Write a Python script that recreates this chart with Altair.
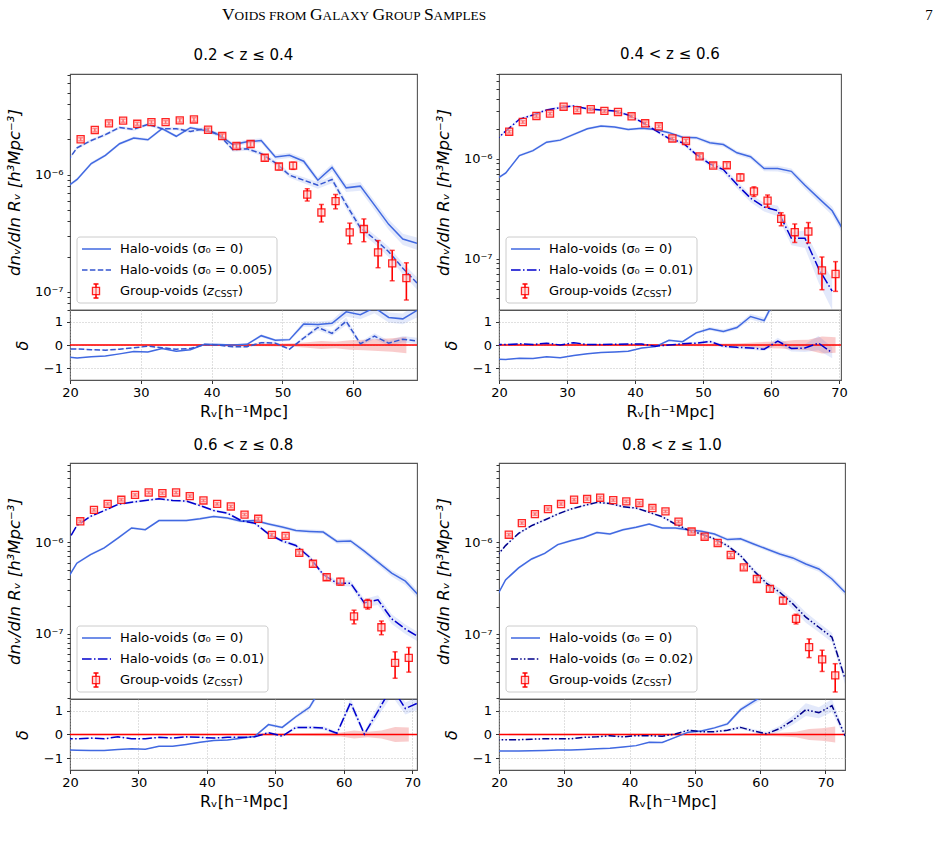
import altair as alt
import pandas as pd

FONT = "DejaVu Sans"
SERIF = "Liberation Serif"
RED = "#ff0000"
BLUE = "#4169e1"

# ---------------- panel 1 : 0.2 < z <= 0.4 ----------------
p1_gx = [21.5, 23.5, 25.5, 27.5, 29.5, 31.5, 33.5, 35.5, 37.5, 39.5, 41.5, 43.5,
         45.5, 47.5, 49.5, 51.5, 53.5, 55.5, 57.5, 59.5, 61.5, 63.5, 65.5, 67.5]
p1_grp = [2.00e-6, 2.40e-6, 2.73e-6, 2.88e-6, 2.71e-6, 2.80e-6, 2.80e-6, 2.90e-6,
          2.95e-6, 2.41e-6, 2.13e-6, 1.75e-6, 1.82e-6, 1.39e-6, 1.17e-6, 1.19e-6,
          6.76e-7, 4.75e-7, 5.93e-7, 3.21e-7, 3.43e-7, 2.17e-7, 1.75e-7, 1.31e-7]
p1_err = [0.03, 0.03, 0.03, 0.03, 0.03, 0.03, 0.03, 0.035, 0.035, 0.035, 0.04, 0.045,
          0.05, 0.055, 0.06, 0.07, 0.12, 0.17, 0.14, 0.20, 0.22, 0.26, 0.29, 0.35]
p1_hx = [19, 21, 23, 25, 27, 29, 31, 33, 35, 37, 39, 41, 43, 45, 47, 49, 51, 53, 55,
         57, 59, 61, 63, 65, 67, 69]
p1_h0 = [7.4e-7, 9.08e-7, 1.24e-6, 1.46e-6, 1.83e-6, 2.05e-6, 1.98e-6, 2.46e-6, 2.12e-6,
         2.51e-6, 2.38e-6, 2.19e-6, 1.80e-6, 1.90e-6, 1.95e-6, 1.41e-6, 1.46e-6, 1.30e-6,
         8.95e-7, 1.15e-6, 7.7e-7, 7.96e-7, 5.49e-7, 3.76e-7, 2.82e-7, 2.59e-7]
p1_h1 = [1.15e-6, 1.69e-6, 1.95e-6, 2.19e-6, 2.52e-6, 2.43e-6, 2.68e-6, 2.46e-6, 2.46e-6,
         2.33e-6, 2.46e-6, 2.19e-6, 1.63e-6, 1.66e-6, 1.51e-6, 1.26e-6, 9.87e-7, 8.95e-7,
         8.11e-7, 9.08e-7, 5.56e-7, 3.52e-7, 2.82e-7, 2.20e-7, 1.59e-7, 1.19e-7]
p1_b0 = [0.03, 0.03, 0.03, 0.03, 0.03, 0.03, 0.03, 0.03, 0.03, 0.03, 0.035, 0.035, 0.04,
         0.04, 0.045, 0.05, 0.05, 0.06, 0.065, 0.07, 0.08, 0.085, 0.09, 0.10, 0.11, 0.12]
p1_b1 = [0.03, 0.03, 0.03, 0.03, 0.03, 0.03, 0.03, 0.03, 0.03, 0.03, 0.035, 0.035, 0.04,
         0.04, 0.045, 0.05, 0.05, 0.06, 0.065, 0.07, 0.08, 0.085, 0.09, 0.10, 0.11, 0.12]
p1_r0 = [-0.50, -0.56, -0.50, -0.47, -0.38, -0.28, -0.30, -0.15, -0.27, -0.20, 0.03, 0.02,
         0.00, 0.03, 0.40, 0.20, 0.23, 0.90, 0.88, 0.93, 1.42, 1.30, 1.60, 1.18, 1.12, 1.48]
p1_r1 = [-0.17, -0.17, -0.20, -0.22, -0.18, -0.12, -0.05, -0.12, -0.18, -0.15, 0.02, 0.00,
         -0.08, -0.07, 0.10, 0.08, -0.18, 0.30, 0.75, 0.50, 1.02, 0.05, 0.38, 0.08, 0.25, 0.17]

# ---------------- panel 2 : 0.4 < z <= 0.6 ----------------
p2_gx = [21.5, 23.5, 25.5, 27.5, 29.5, 31.5, 33.5, 35.5, 37.5, 39.5, 41.5, 43.5,
         45.5, 47.5, 49.5, 51.5, 53.5, 55.5, 57.5, 59.5, 61.5, 63.5, 65.5, 67.5, 69.5]
p2_grp = [1.87e-6, 2.34e-6, 2.69e-6, 2.84e-6, 3.33e-6, 3.07e-6, 3.14e-6, 3.02e-6, 2.95e-6,
          2.67e-6, 2.27e-6, 2.12e-6, 1.60e-6, 1.51e-6, 1.06e-6, 8.57e-7, 8.63e-7, 6.53e-7,
          4.72e-7, 3.81e-7, 2.51e-7, 1.84e-7, 1.87e-7, 7.64e-8, 7.02e-8]
p2_err = [0.03, 0.03, 0.03, 0.03, 0.03, 0.03, 0.03, 0.03, 0.03, 0.03, 0.03, 0.03, 0.03,
          0.04, 0.05, 0.05, 0.06, 0.08, 0.11, 0.14, 0.15, 0.21, 0.23, 0.36, 0.33]
p2_hx = [19, 21, 23, 25, 27, 29, 31, 33, 35, 37, 39, 41, 43, 45, 47, 49, 51, 53, 55,
         57, 59, 61, 63, 65, 67, 69, 71]
p2_h0 = [5.9e-7, 7.22e-7, 1.08e-6, 1.21e-6, 1.47e-6, 1.54e-6, 1.76e-6, 2.00e-6, 2.13e-6,
         2.08e-6, 1.97e-6, 2.02e-6, 1.97e-6, 1.83e-6, 1.65e-6, 1.63e-6, 1.45e-6, 1.39e-6,
         1.15e-6, 1.05e-6, 8.0e-7, 8.0e-7, 7.5e-7, 5.43e-7, 4.04e-7, 3.02e-7, 1.75e-7]
p2_h1 = [1.43e-6, 1.90e-6, 2.49e-6, 2.75e-6, 3.09e-6, 3.26e-6, 3.39e-6, 3.18e-6, 3.09e-6,
         3.02e-6, 2.75e-6, 2.34e-6, 1.93e-6, 1.60e-6, 1.45e-6, 1.11e-6, 8.91e-7, 7.81e-7,
         5.52e-7, 4.04e-7, 3.29e-7, 3.02e-7, 1.60e-7, 1.60e-7, 8.0e-8, 4.72e-8]
p2_b0 = [0.03, 0.03, 0.03, 0.03, 0.03, 0.03, 0.03, 0.03, 0.03, 0.03, 0.03, 0.03, 0.035,
         0.035, 0.04, 0.04, 0.045, 0.05, 0.05, 0.055, 0.06, 0.065, 0.07, 0.08, 0.09, 0.10, 0.11]
p2_b1 = [0.03, 0.03, 0.03, 0.03, 0.03, 0.03, 0.03, 0.03, 0.03, 0.03, 0.035, 0.035, 0.04,
         0.04, 0.045, 0.05, 0.06, 0.07, 0.08, 0.09, 0.10, 0.12, 0.15, 0.20, 0.28, 0.35]
p2_r0 = [-0.60, -0.62, -0.57, -0.58, -0.50, -0.55, -0.45, -0.38, -0.32, -0.30, -0.27, -0.13,
         -0.07, 0.20, 0.14, 0.52, 0.70, 0.58, 0.75, 1.22, 1.05, 2.19, 3.08, 1.90, 4.29, 3.30]
p2_r1 = [0.02, 0.02, 0.05, 0.02, 0.08, 0.00, 0.10, 0.02, 0.02, 0.03, 0.04, 0.04, -0.05,
         0.00, 0.05, 0.08, 0.15, -0.05, -0.10, -0.13, -0.18, 0.17, -0.15, -0.13, 0.08, -0.33]

# ---------------- panel 3 : 0.6 < z <= 0.8 ----------------
p3_gx = [21.5, 23.5, 25.5, 27.5, 29.5, 31.5, 33.5, 35.5, 37.5, 39.5, 41.5, 43.5,
         45.5, 47.5, 49.5, 51.5, 53.5, 55.5, 57.5, 59.5, 61.5, 63.5, 65.5, 67.5, 69.5]
p3_grp = [1.69e-6, 2.25e-6, 2.62e-6, 2.90e-6, 3.28e-6, 3.48e-6, 3.42e-6, 3.48e-6, 3.18e-6,
          2.85e-6, 2.62e-6, 2.45e-6, 2.00e-6, 1.80e-6, 1.20e-6, 1.17e-6, 7.65e-7, 5.81e-7,
          4.15e-7, 3.72e-7, 1.55e-7, 2.12e-7, 1.18e-7, 4.83e-8, 5.47e-8]
p3_err = [0.03, 0.03, 0.03, 0.03, 0.03, 0.03, 0.03, 0.03, 0.03, 0.03, 0.03, 0.03, 0.03,
          0.035, 0.04, 0.045, 0.05, 0.06, 0.07, 0.08, 0.17, 0.12, 0.17, 0.32, 0.30]
p3_hx = [19, 21, 23, 25, 27, 29, 31, 33, 35, 37, 39, 41, 43, 45, 47, 49, 51, 53, 55,
         57, 59, 61, 63, 65, 67, 69, 71]
p3_h0 = [3.35e-7, 5.90e-7, 7.33e-7, 8.67e-7, 1.11e-6, 1.43e-6, 1.37e-6, 1.72e-6, 1.72e-6,
         1.72e-6, 1.80e-6, 1.91e-6, 1.83e-6, 1.69e-6, 1.72e-6, 1.58e-6, 1.46e-6, 1.34e-6,
         1.31e-6, 1.29e-6, 1.02e-6, 1.03e-6, 7.97e-7, 6.05e-7, 4.59e-7, 3.76e-7, 2.6e-7]
p3_h1 = [8.4e-7, 1.52e-6, 1.91e-6, 2.21e-6, 2.58e-6, 2.73e-6, 2.85e-6, 2.97e-6, 2.85e-6,
         2.80e-6, 2.51e-6, 2.21e-6, 2.07e-6, 1.72e-6, 1.61e-6, 1.23e-6, 1.03e-6, 9.20e-7,
         6.86e-7, 4.44e-7, 3.57e-7, 3.57e-7, 2.18e-7, 2.35e-7, 1.46e-7, 1.13e-7, 9.2e-8]
p3_b0 = [0.03, 0.03, 0.03, 0.03, 0.03, 0.03, 0.03, 0.03, 0.03, 0.03, 0.03, 0.03, 0.035,
         0.035, 0.04, 0.04, 0.045, 0.045, 0.05, 0.05, 0.055, 0.06, 0.065, 0.07, 0.08, 0.09, 0.10]
p3_b1 = [0.03, 0.03, 0.03, 0.03, 0.03, 0.03, 0.03, 0.03, 0.03, 0.03, 0.03, 0.03, 0.035,
         0.035, 0.04, 0.04, 0.045, 0.05, 0.055, 0.06, 0.07, 0.08, 0.10, 0.12, 0.12, 0.12, 0.12]
p3_r0 = [-0.65, -0.67, -0.68, -0.68, -0.63, -0.60, -0.62, -0.50, -0.50, -0.42, -0.33, -0.25,
         -0.23, -0.16, -0.08, 0.42, 0.30, 0.75, 1.15, 2.11, 1.74, 5.6, 2.76, 4.13, 8.5, 5.9]
p3_r1 = [-0.18, -0.18, -0.15, -0.18, -0.10, -0.18, -0.18, -0.12, -0.15, -0.10, -0.12, -0.15,
         -0.12, -0.12, -0.10, 0.08, -0.07, 0.30, 0.30, 0.27, 0.05, 1.35, 0.02, 0.99, 2.0, 1.1, 1.35]

# ---------------- panel 4 : 0.8 < z <= 1.0 ----------------
p4_gx = [21.5, 23.5, 25.5, 27.5, 29.5, 31.5, 33.5, 35.5, 37.5, 39.5, 41.5, 43.5,
         45.5, 47.5, 49.5, 51.5, 53.5, 55.5, 57.5, 59.5, 61.5, 63.5, 65.5, 67.5, 69.5, 71.5]
p4_grp = [1.21e-6, 1.62e-6, 2.03e-6, 2.30e-6, 2.61e-6, 2.91e-6, 2.96e-6, 3.06e-6, 2.88e-6,
          2.79e-6, 2.68e-6, 2.36e-6, 2.17e-6, 1.68e-6, 1.31e-6, 1.15e-6, 9.84e-7, 7.28e-7,
          5.34e-7, 3.99e-7, 3.11e-7, 2.32e-7, 1.47e-7, 7.22e-8, 5.31e-8, 3.56e-8]
p4_err = [0.03, 0.03, 0.03, 0.03, 0.03, 0.03, 0.03, 0.03, 0.03, 0.03, 0.03, 0.03, 0.03,
          0.03, 0.035, 0.04, 0.04, 0.045, 0.05, 0.055, 0.065, 0.08, 0.12, 0.23, 0.26, 0.34]
p4_hx = [19, 21, 23, 25, 27, 29, 31, 33, 35, 37, 39, 41, 43, 45, 47, 49, 51, 53, 55,
         57, 59, 61, 63, 65, 67, 69, 71, 73]
p4_h0 = [2.1e-7, 3.90e-7, 5.26e-7, 6.59e-7, 7.59e-7, 9.44e-7, 1.04e-6, 1.13e-6, 1.28e-6,
         1.23e-6, 1.37e-6, 1.46e-6, 1.58e-6, 1.43e-6, 1.43e-6, 1.37e-6, 1.32e-6, 1.23e-6,
         1.07e-6, 1.09e-6, 9.59e-7, 8.47e-7, 7.47e-7, 6.76e-7, 5.81e-7, 5.13e-7, 3.99e-7, 2.86e-7]
p4_h1 = [6.25e-7, 9.2e-7, 1.25e-6, 1.52e-6, 1.75e-6, 2.03e-6, 2.30e-6, 2.51e-6, 2.72e-6,
         2.65e-6, 2.44e-6, 2.36e-6, 2.12e-6, 1.90e-6, 1.58e-6, 1.36e-6, 1.23e-6, 1.09e-6,
         9.2e-7, 7.16e-7, 4.92e-7, 3.58e-7, 2.86e-7, 2.14e-7, 1.53e-7, 1.19e-7, 9.28e-8, 3.27e-8]
p4_b0 = [0.03, 0.03, 0.03, 0.03, 0.03, 0.03, 0.03, 0.03, 0.03, 0.03, 0.03, 0.03, 0.03, 0.03,
         0.035, 0.035, 0.04, 0.04, 0.045, 0.045, 0.05, 0.05, 0.055, 0.06, 0.065, 0.07, 0.075, 0.08]
p4_b1 = [0.03, 0.03, 0.03, 0.03, 0.03, 0.03, 0.03, 0.03, 0.03, 0.03, 0.03, 0.03, 0.03, 0.03,
         0.035, 0.035, 0.04, 0.04, 0.045, 0.05, 0.06, 0.08, 0.10, 0.12, 0.13, 0.12, 0.12, 0.12]
p4_r0 = [-0.70, -0.70, -0.70, -0.69, -0.68, -0.66, -0.65, -0.63, -0.60, -0.58, -0.53, -0.47,
         -0.33, -0.34, -0.12, 0.10, 0.15, 0.28, 0.45, 1.05, 1.40, 1.72, 2.2, 3.6, 7.0, 8.7, 10.2]
p4_r1 = [-0.22, -0.22, -0.22, -0.20, -0.18, -0.18, -0.18, -0.12, -0.10, -0.05, -0.10, -0.05,
         -0.05, -0.07, 0.02, 0.18, 0.12, 0.12, 0.18, 0.30, 0.15, 0.03, 0.25, 0.60, 1.05, 0.92,
         1.22, -0.05]

PANELS = [
    dict(title="0.2 < z ≤ 0.4", w=347, rh=70, xdom=[20, 69], ydom=[7.0e-8, 7.2e-6],
         gx=p1_gx, grp=p1_grp, err=p1_err, hx=p1_hx, h0=p1_h0, h1=p1_h1, b0=p1_b0, b1=p1_b1,
         r0=p1_r0, r1=p1_r1, c1="#3556d0", d1=[5.5, 2.4], lab1="Halo-voids (σ₀ = 0.005)", box=207),
    dict(title="0.4 < z ≤ 0.6", w=342, rh=70, xdom=[20, 70.3], ydom=[3.06e-8, 7.08e-6],
         gx=p2_gx, grp=p2_grp, err=p2_err, hx=p2_hx, h0=p2_h0, h1=p2_h1, b0=p2_b0, b1=p2_b1,
         r0=p2_r0, r1=p2_r1, c1="#0000cd", d1=[9.6, 2.4, 1.5, 2.4], lab1="Halo-voids (σ₀ = 0.01)", box=198),
    dict(title="0.6 < z ≤ 0.8", w=347, rh=71, xdom=[20, 70.7], ydom=[1.95e-8, 7.3e-6],
         gx=p3_gx, grp=p3_grp, err=p3_err, hx=p3_hx, h0=p3_h0, h1=p3_h1, b0=p3_b0, b1=p3_b1,
         r0=p3_r0, r1=p3_r1, c1="#0000cd", d1=[9.6, 2.4, 1.5, 2.4], lab1="Halo-voids (σ₀ = 0.01)", box=198),
    dict(title="0.8 < z ≤ 1.0", w=346, rh=71, xdom=[20, 73], ydom=[1.97e-8, 7.3e-6],
         gx=p4_gx, grp=p4_grp, err=p4_err, hx=p4_hx, h0=p4_h0, h1=p4_h1, b0=p4_b0, b1=p4_b1,
         r0=p4_r0, r1=p4_r1, c1="#00008b", d1=[7, 2.2, 1.5, 2.2, 1.5, 2.2], lab1="Halo-voids (σ₀ = 0.02)", box=198),
]

ONE = pd.DataFrame({"k": [0]})
MAIN_H = 236
NOFRAME = alt.ViewBackground(stroke="transparent")


def main_axis(ydom):
    ticks = []
    for e in (-8, -7, -6, -5):
        for m in range(1, 10):
            v = m * 10.0 ** e
            if ydom[0] <= v <= ydom[1]:
                ticks.append(v)
    expr = ("abs(log(datum.value)/LN10+6)<0.01 ? '10⁻⁶' : "
            "abs(log(datum.value)/LN10+7)<0.01 ? '10⁻⁷' : "
            "abs(log(datum.value)/LN10+8)<0.01 ? '10⁻⁸' : ''")
    return alt.Axis(title="dnᵥ/dln Rᵥ [h³Mpc⁻³]", values=ticks, labelExpr=expr, grid=False,
                    domain=False, tickSize=3, labelPadding=4, minExtent=34, maxExtent=34,
                    titlePadding=14, titleFontSize=16.5, titleFontStyle="italic",
                    labelOverlap=False, labelFlush=False, labelBound=False)


def vtext(s, x, y, size=13, style="normal", font=FONT, align="left", baseline="middle"):
    return alt.Chart(ONE).mark_text(text=s, align=align, baseline=baseline, fontSize=size,
                                    font=font, fontStyle=style, color="black").encode(
        x=alt.value(x), y=alt.value(y))


def blank(w, h):
    return alt.Chart(ONE).mark_point(opacity=0).encode(
        x=alt.value(0), y=alt.value(0)).properties(width=w, height=h, view=NOFRAME)


def make_panel(P):
    W = P["w"]
    X = alt.X("x:Q", scale=alt.Scale(domain=P["xdom"], nice=False, zero=False), axis=None)
    ysc = alt.Scale(type="log", domain=P["ydom"], nice=False)
    yax = main_axis(P["ydom"])

    def Y(f):
        return alt.Y(f + ":Q", scale=ysc, axis=yax)

    lines = [
        (P["hx"], P["h0"], P["b0"], BLUE, None),
        (P["hx"][:len(P["h1"])], P["h1"], P["b1"], P["c1"], P["d1"]),
    ]
    layers = []
    for xs, ys, bs, col, dash in lines:
        df = pd.DataFrame({"x": xs, "y": ys,
                           "lo": [y * (1 - b) for y, b in zip(ys, bs)],
                           "hi": [y * (1 + b) for y, b in zip(ys, bs)]})
        layers.append(alt.Chart(df).mark_area(clip=True, color=BLUE, opacity=0.15).encode(
            x=X, y=Y("lo"), y2=alt.Y2("hi:Q")))
    for xs, ys, bs, col, dash in lines:
        df = pd.DataFrame({"x": xs, "y": ys})
        kw = dict(clip=True, color=col, strokeWidth=1.5)
        if dash:
            kw["strokeDash"] = dash
        layers.append(alt.Chart(df).mark_line(**kw).encode(x=X, y=Y("y")))

    g = pd.DataFrame({"x": P["gx"], "y": P["grp"],
                      "lo": [y * (1 - e) for y, e in zip(P["grp"], P["err"])],
                      "hi": [y * (1 + e) for y, e in zip(P["grp"], P["err"])]})
    layers.append(alt.Chart(g).mark_rule(color=RED, strokeWidth=1.6, clip=True).encode(
        x=X, y=Y("lo"), y2=alt.Y2("hi:Q")))
    for f in ("lo", "hi"):
        layers.append(alt.Chart(g).mark_tick(color=RED, orient="horizontal", size=5,
                                             thickness=1.5, clip=True).encode(x=X, y=Y(f)))
    layers.append(alt.Chart(g).mark_point(shape="square", size=50, filled=True, fill="#ffc8c8",
                                          fillOpacity=0.55, stroke=RED, strokeOpacity=0.85,
                                          strokeWidth=1.3, clip=True).encode(x=X, y=Y("y")))

    # legend
    layers.append(alt.Chart(ONE).mark_rect(fill="white", fillOpacity=0.8, stroke="#cccccc",
                                           strokeWidth=1, cornerRadius=3).encode(
        x=alt.value(7), x2=alt.value(P["box"]), y=alt.value(163), y2=alt.value(229)))
    layers.append(alt.Chart(ONE).mark_rule(color=BLUE, strokeWidth=1.5).encode(
        x=alt.value(12), x2=alt.value(41), y=alt.value(175)))
    layers.append(alt.Chart(ONE).mark_rule(color=P["c1"], strokeWidth=1.5,
                                           strokeDash=P["d1"]).encode(
        x=alt.value(12), x2=alt.value(41), y=alt.value(196)))
    layers.append(alt.Chart(ONE).mark_rule(color=RED, strokeWidth=1.6).encode(
        x=alt.value(26), y=alt.value(210), y2=alt.value(224)))
    for yy in (210, 224):
        layers.append(alt.Chart(ONE).mark_rule(color=RED, strokeWidth=1.5).encode(
            x=alt.value(23.5), x2=alt.value(28.5), y=alt.value(yy)))
    layers.append(alt.Chart(ONE).mark_point(shape="square", size=50, filled=True, fill="#ffc8c8",
                                            fillOpacity=0.55, stroke=RED, strokeOpacity=0.85,
                                            strokeWidth=1.3).encode(
        x=alt.value(26), y=alt.value(217)))
    layers.append(vtext("Halo-voids (σ₀ = 0)", 50, 175))
    layers.append(vtext(P["lab1"], 50, 196))
    layers.append(vtext("Group-voids (", 50, 217))
    layers.append(vtext("z", 137, 217, style="italic"))
    layers.append(vtext("CSST", 144.5, 220, size=9))
    layers.append(vtext(")", 168, 217))

    main = alt.layer(*layers).properties(
        width=W, height=MAIN_H,
        title=alt.TitleParams(P["title"], fontSize=15, font=FONT, fontWeight="normal",
                              offset=6, color="black"))

    # residual panel
    Xr = alt.X("x:Q", scale=alt.Scale(domain=P["xdom"], nice=False, zero=False),
               axis=alt.Axis(title="Rᵥ[h⁻¹Mpc]", values=[20, 30, 40, 50, 60, 70], format="d",
                             grid=True, gridDash=[1, 2], gridColor="#b0b0b0", gridWidth=0.8,
                             tickSize=3.5, labelPadding=3, domain=False, titlePadding=4,
                             titleFontSize=16, labelFlush=False, labelOverlap=False))
    ryax = alt.Axis(title="δ", values=[-1, 1e-9, 1], grid=True, gridDash=[1, 2],
                    gridColor="#b0b0b0", gridWidth=0.8, tickSize=3.5, labelPadding=4,
                    domain=False, minExtent=28, maxExtent=28, titlePadding=12,
                    titleFontSize=16, titleFontStyle="italic",
                    labelExpr="datum.value < -0.5 ? '−1' : datum.value > 0.5 ? '1' : '0'",
                    labelFlush=False, labelOverlap=False, labelBound=False)
    rsc = alt.Scale(domain=[-1.5, 1.5], nice=False, zero=False)

    def YR(f):
        return alt.Y(f + ":Q", scale=rsc, axis=ryax)

    rl = []
    gr = pd.DataFrame({"x": P["gx"], "lo": [-e for e in P["err"]], "hi": P["err"]})
    rl.append(alt.Chart(gr).mark_area(clip=True, color="#f08080", opacity=0.4).encode(
        x=Xr, y=YR("lo"), y2=alt.Y2("hi:Q")))
    rlines = [
        (P["hx"][:len(P["r0"])], P["r0"], P["b0"], BLUE, None),
        (P["hx"][:len(P["r1"])], P["r1"], P["b1"], P["c1"], P["d1"]),
    ]
    for xs, rs, bs, col, dash in rlines:
        df = pd.DataFrame({"x": xs, "y": rs,
                           "lo": [r - (1 + r) * b for r, b in zip(rs, bs)],
                           "hi": [r + (1 + r) * b for r, b in zip(rs, bs)]})
        rl.append(alt.Chart(df).mark_area(clip=True, color=BLUE, opacity=0.15).encode(
            x=Xr, y=YR("lo"), y2=alt.Y2("hi:Q")))
    zero = pd.DataFrame({"z": [0.0]})
    rl.append(alt.Chart(zero).mark_rule(color=RED, strokeWidth=1.5).encode(y=YR("z")))
    for xs, rs, bs, col, dash in rlines:
        df = pd.DataFrame({"x": xs, "y": rs})
        kw = dict(clip=True, color=col, strokeWidth=1.5)
        if dash:
            kw["strokeDash"] = dash
        rl.append(alt.Chart(df).mark_line(**kw).encode(x=Xr, y=YR("y")))
    resid = alt.layer(*rl).properties(width=W, height=P["rh"])
    return main, resid


mains, resids = zip(*[make_panel(P) for P in PANELS])

# page header (small caps imitation)
hdr = [alt.Chart(ONE).mark_rect(opacity=0).encode(
    x=alt.value(-69), x2=alt.value(-68), y=alt.value(-5), y2=alt.value(-4))]
segs = [("V", 152.0, 17.5), ("OIDS FROM", 164.6, 13.3), ("G", 240.0, 17.5),
        ("ALAXY", 252.6, 13.3), ("G", 302.5, 17.5), ("ROUP", 315.1, 13.3),
        ("S", 353.9, 17.5), ("AMPLES", 363.6, 13.3)]
for s, x, sz in segs:
    hdr.append(vtext(s, x, 14, size=sz, font=SERIF, baseline="alphabetic"))
hdr.append(vtext("7", 859, 14, size=15, font=SERIF, align="center", baseline="alphabetic"))
header = alt.layer(*hdr).properties(width=347, height=68, view=NOFRAME)

cells = [header, blank(342, 68),
         mains[0], mains[1],
         resids[0], resids[1],
         blank(347, 83), blank(342, 83),
         mains[2], mains[3],
         resids[2], resids[3]]

chart = alt.concat(*cells, columns=2, spacing={"row": 0, "column": 82}, bounds="flush",
                   align="each").resolve_scale(
    x="independent", y="independent").properties(padding=0).configure_view(
    stroke="#555555", strokeWidth=1.1).configure_axis(
    labelFont=FONT, titleFont=FONT, labelFontSize=13, titleFontSize=15, labelColor="black",
    titleColor="black", tickColor="#333333", titleFontWeight="normal").configure_title(
    font=FONT, fontWeight="normal", color="black")

chart.save("out.html", embed_options={"renderer": "svg", "actions": False})
